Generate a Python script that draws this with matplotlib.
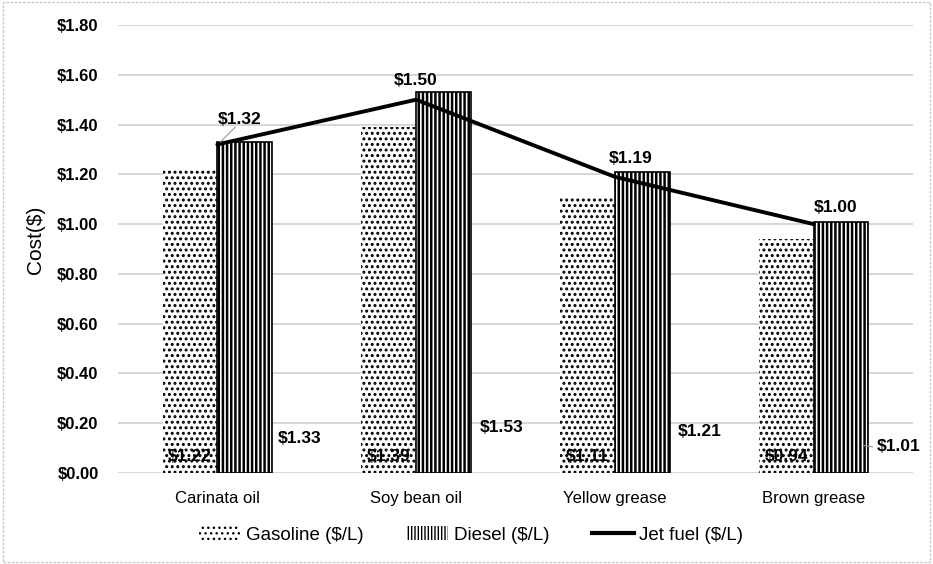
import matplotlib
matplotlib.use("Agg")
import matplotlib.pyplot as plt
import numpy as np
from matplotlib.patches import Rectangle, Patch
from matplotlib.lines import Line2D

plt.rcParams['font.family'] = ['Liberation Sans', 'DejaVu Sans']

categories = ["Carinata oil", "Soy bean oil", "Yellow grease", "Brown grease"]
gasoline = [1.22, 1.39, 1.11, 0.94]
diesel = [1.33, 1.53, 1.21, 1.01]
jet = [1.32, 1.50, 1.19, 1.00]
yticks = [0.0, 0.2, 0.4, 0.6, 0.8, 1.0, 1.2, 1.4, 1.6, 1.8]
series_names = ["Gasoline ($/L)", "Diesel ($/L)", "Jet fuel ($/L)"]

fig = plt.figure(figsize=(9.33, 5.64), dpi=100)
ax = fig.add_axes([118/933, 1-473/564, 795/933, 448/564])

x = np.arange(len(categories))
w = 0.275
with plt.rc_context({'hatch.linewidth': 1.4}):
    ax.bar(x - w/2, gasoline, w, facecolor='white', edgecolor='black', linewidth=0, hatch='...', zorder=2)
    h_gas = Patch(facecolor='white', edgecolor='black', linewidth=0, hatch='...')
with plt.rc_context({'hatch.linewidth': 1.8}):
    ax.bar(x + w/2, diesel, w, facecolor='white', edgecolor='black', linewidth=1.2, hatch='||||', zorder=2)
    h_die = Patch(facecolor='white', edgecolor='black', linewidth=0, hatch='|||||')
ax.plot(x, jet, color='black', linewidth=2.8, zorder=4, solid_capstyle='round')

ax.set_xlim(-0.5, len(categories) - 0.5)
ax.set_ylim(0, 1.8)
ax.set_yticks(yticks)
ax.set_yticklabels([f"${v:.2f}" for v in yticks], fontsize=12, fontweight='bold')
ax.set_xticks(x)
ax.set_xticklabels(categories, fontsize=12)
ax.tick_params(axis='y', length=0, pad=14)
ax.tick_params(axis='x', length=0, pad=13)
ax.yaxis.grid(True, color='#d0d0d0', linewidth=1.2, zorder=0)
ax.set_axisbelow(True)
for s in ax.spines.values():
    s.set_visible(False)
ax.set_ylabel("Cost($)", fontsize=15)
ax.yaxis.set_label_coords(-0.092, 0.52)

# gasoline labels at bottom inside bars
for i, v in enumerate(gasoline):
    ax.annotate(f"${v:.2f}", (x[i] - w/2, 0), xytext=(0, 12), textcoords='offset points',
                ha='center', va='center', fontsize=12.5, fontweight='bold', zorder=5)
# diesel labels right of bars
d_off = [(20, 25), (22, 33), (22, 30), (22, 19)]
for i, v in enumerate(diesel):
    ax.annotate(f"${v:.2f}", (x[i] + w, 0), xytext=d_off[i], textcoords='offset points',
                ha='center', va='center', fontsize=12.5, fontweight='bold', zorder=5)
ax.plot([x[3] + w*0.92, x[3] + w*1.08], [0.11, 0.105], color='#999999', linewidth=0.8, zorder=5)
# jet labels
j_off = [(16, 18), (0, 14), (11, 13), (16, 12)]
for i, v in enumerate(jet):
    ax.annotate(f"${v:.2f}", (x[i], v), xytext=j_off[i], textcoords='offset points',
                ha='center', va='center', fontsize=12.5, fontweight='bold', zorder=5)
ax.plot([x[0] + 0.015, x[0] + 0.09], [1.33, 1.39], color='#999999', linewidth=0.8, zorder=5)

handles = [h_gas, h_die, Line2D([0], [0], color='black', linewidth=3)]
fig.legend(handles, series_names, loc='center', bbox_to_anchor=(0.505, 1-535/564), ncol=3,
           frameon=False, fontsize=13.5, handlelength=2.2, handletextpad=0.3, columnspacing=2.3)

fig.patches.append(Rectangle((0.003, 0.004), 0.994, 0.992, transform=fig.transFigure, fill=False,
                             edgecolor='#c8c8c8', linewidth=1, linestyle=(0, (2, 1))))

fig.savefig("out.png", dpi=100)
